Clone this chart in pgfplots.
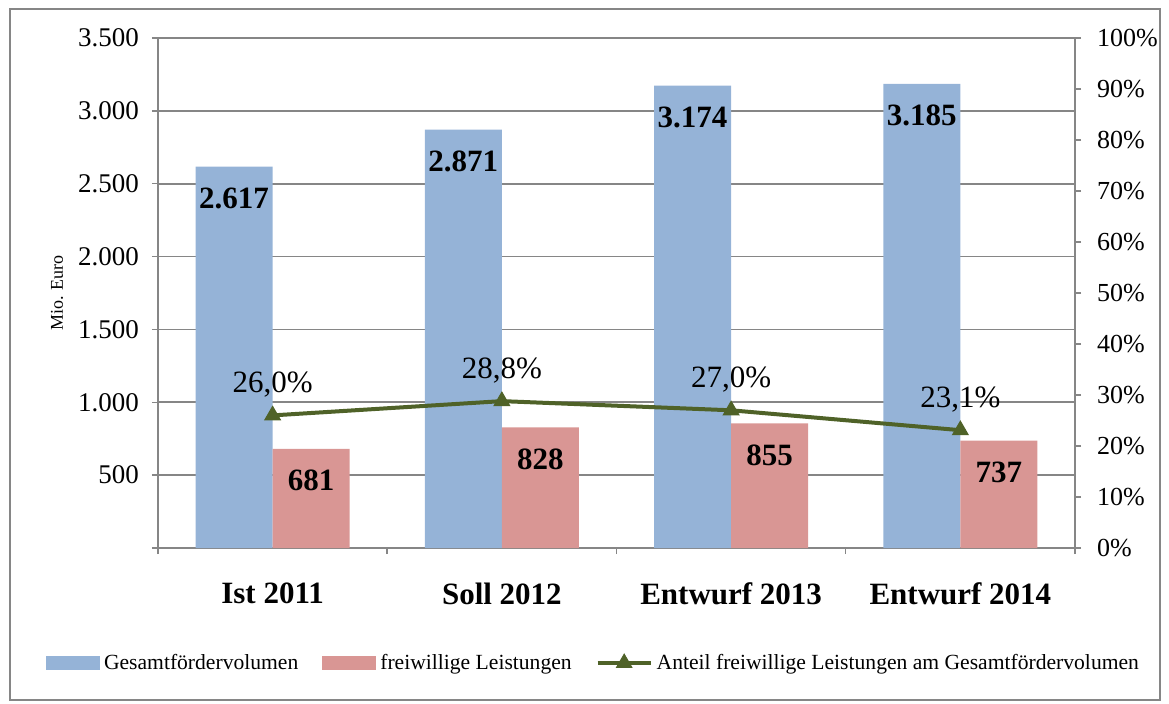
\documentclass[border=0pt]{standalone}
\usepackage{fontspec}
\setmainfont{Liberation Serif}
\usepackage{pgfplots}
\pgfplotsset{compat=1.18}
\definecolor{barblue}{HTML}{95B3D7}
\definecolor{barred}{HTML}{D99694}
\definecolor{linegreen}{HTML}{4F6228}
\definecolor{axgray}{HTML}{868686}
\begin{document}
\begin{tikzpicture}
\path (0pt,0pt) rectangle (584.5pt,351.5pt);
\draw[axgray, line width=0.75pt] (5pt,1.5pt) rectangle (580pt,347pt);
\begin{axis}[
 at={(79pt,77.5pt)}, anchor=south west,
 scale only axis, width=458.5pt, height=255pt,
 xmin=-0.5, xmax=3.5, ymin=0, ymax=3500,
 axis x line*=bottom, axis y line*=left,
 axis line style={axgray, line width=0.75pt, -},
 xtick={0,1,2,3},
 xticklabels={Ist 2011, Soll 2012, Entwurf 2013, Entwurf 2014},
 minor xtick={-0.5,0.5,1.5,2.5,3.5},
 major x tick style={draw=none},
 minor x tick style={axgray, line width=0.75pt},
 minor tick length=3pt,
 x tick label style={font=\fontsize{15.5}{18}\selectfont\bfseries, yshift=-11pt},
 ytick={0,500,...,3500},
 yticklabels={{},500,1.000,1.500,2.000,2.500,3.000,3.500},
 y tick label style={font=\fontsize{13.5}{16}\selectfont, xshift=-3pt},
 major tick length=3pt,
 tick align=outside,
 y tick style={axgray, line width=0.75pt},
 ymajorgrids, grid style={axgray, line width=0.85pt},
 ylabel={Mio. Euro},
 ylabel style={font=\fontsize{9}{11}\selectfont, at={(axis description cs:-0.11,0.5)}, anchor=center},
 legend columns=3,
 legend cell align=left,
 legend style={at={(0.476,-0.2255)}, anchor=center, draw=none, fill=none,
   font=\fontsize{10.8}{13}\selectfont,
   /tikz/every even column/.append style={column sep=10pt}},
 clip=false,
]
\addplot[ybar, bar width=38.5pt, bar shift=-19.25pt, fill=barblue, draw=none,
  nodes near coords, point meta=explicit symbolic,
  every node near coord/.append style={anchor=base, xshift=-19.25pt, yshift=-21pt, text=black, font=\fontsize{15.5}{18}\selectfont\bfseries},
  legend image code/.code={\fill[barblue] (0pt,-3.5pt) rectangle (27pt,3.5pt);}]
  coordinates {(0,2617) [2.617] (1,2871) [2.871] (2,3174) [3.174] (3,3185) [3.185]};
\addlegendentry{Gesamtfördervolumen}
\addplot[ybar, bar width=38.5pt, bar shift=19.25pt, fill=barred, draw=none,
  nodes near coords, point meta=explicit symbolic,
  every node near coord/.append style={anchor=base, xshift=19.25pt, yshift=-21pt, text=black, font=\fontsize{15.5}{18}\selectfont\bfseries},
  legend image code/.code={\fill[barred] (0pt,-3.5pt) rectangle (27pt,3.5pt);}]
  coordinates {(0,681) [681] (1,828) [828] (2,855) [855] (3,737) [737]};
\addlegendentry{freiwillige Leistungen}
\addlegendimage{legend image code/.code={%
  \draw[linegreen, line width=2pt] (0pt,0pt) -- (26.5pt,0pt);
  \fill[linegreen] (13.25pt,0pt) ++(90:4.5pt) -- ++(-120:7.8pt) -- ++(0:7.8pt) -- cycle;}}
\addlegendentry{Anteil freiwillige Leistungen am Gesamtfördervolumen}
\end{axis}
\begin{axis}[
 at={(79pt,77.5pt)}, anchor=south west,
 scale only axis, width=458.5pt, height=255pt,
 xmin=-0.5, xmax=3.5, ymin=0, ymax=100,
 axis x line=none, axis y line*=right,
 axis line style={axgray, line width=0.75pt, -},
 ytick={0,10,...,100},
 yticklabels={0\%,10\%,20\%,30\%,40\%,50\%,60\%,70\%,80\%,90\%,100\%},
 y tick label style={font=\fontsize{13}{15}\selectfont, xshift=4.5pt},
 major tick length=3pt,
 tick align=outside,
 y tick style={axgray, line width=0.75pt},
 clip=false,
]
\addplot[linegreen, line width=2pt, mark=triangle*, mark size=4.5pt, mark options={line width=0.5pt},
  nodes near coords, point meta=explicit symbolic,
  every node near coord/.append style={anchor=base, yshift=11.5pt, text=black, font=\fontsize{15.5}{18}\selectfont}]
  coordinates {(0,26.0) [26,0\%] (1,28.8) [28,8\%] (2,27.0) [27,0\%] (3,23.1) [23,1\%]};
\end{axis}
\end{tikzpicture}
\end{document}
